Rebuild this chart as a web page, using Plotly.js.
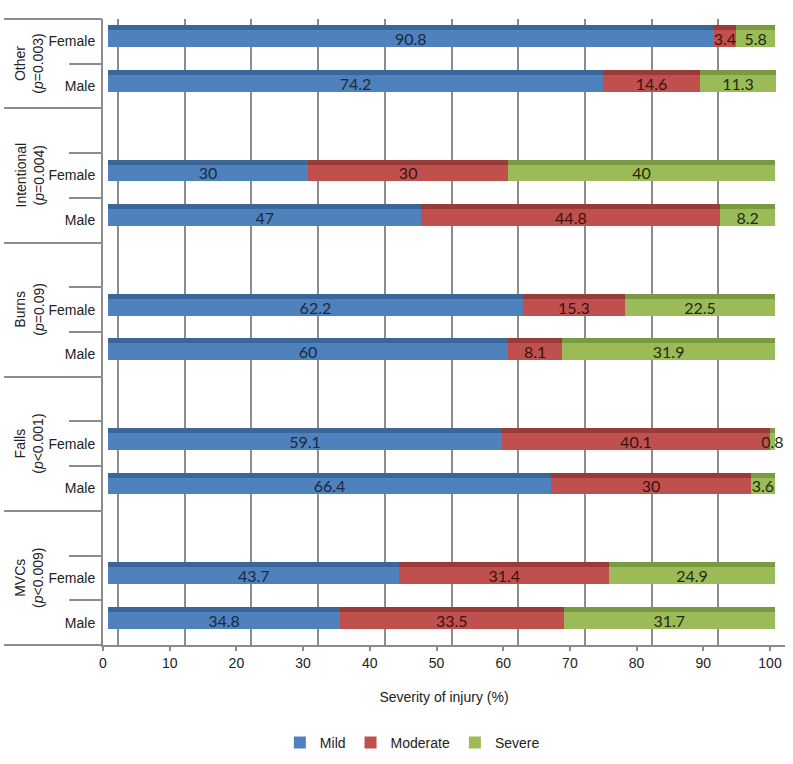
<!DOCTYPE html>
<html>
<head>
<meta charset="utf-8">
<script src="https://cdn.plot.ly/plotly-3.0.1.min.js"></script>
<style>html,body{margin:0;padding:0;background:#fff;}#chart{width:793px;height:764px;}</style>
</head>
<body>
<div id="chart"></div>
<script>
// ---- data ----
const groups = ['MVCs', 'Falls', 'Burns', 'Intentional', 'Other'];
const pLabels = ['(<i>p</i>&lt;0.009)', '(<i>p</i>&lt;0.001)', '(<i>p</i>=0.09)', '(<i>p</i>=0.004)', '(<i>p</i>=0.003)'];
const sexes = ['Male', 'Female'];
const mildMale     = [34.8, 66.4, 60.0, 47.0, 74.2];
const mildFemale   = [43.7, 59.1, 62.2, 30.0, 90.8];
const modMale      = [33.5, 30.0, 8.1, 44.8, 14.6];
const modFemale    = [31.4, 40.1, 15.3, 30.0, 3.4];
const sevMale      = [31.7, 3.6, 31.9, 8.2, 11.3];
const sevFemale    = [24.9, 0.8, 22.5, 40.0, 5.8];
const xTicks = [0, 10, 20, 30, 40, 50, 60, 70, 80, 90, 100];
const severityNames = ['Mild', 'Moderate', 'Severe'];

// ---- styling ----
const frontColors = ['#4f81bd', '#c0504d', '#9bbb59'];
const topColors   = ['#3b6698', '#983b39', '#7a9a42'];
const textColors  = ['#1a2a40', '#3a1212', '#1f2b10'];
const gridGrey = '#8c8c8c';
const tickFont = {family: 'Liberation Sans, Arial, sans-serif', size: 14, color: '#222'};

// slot positions: each group uses 3 slots (Male, Female, blank), last group 2
function slot(g, s) { return g * 3 + s; }
const yPos = [], yLabels = [];
groups.forEach((g, gi) => sexes.forEach((s, si) => { yPos.push(slot(gi, si)); yLabels.push(s); }));
function interleave(m, f) { const out = []; m.forEach((v, i) => { out.push(v, f[i]); }); return out; }
const series = [interleave(mildMale, mildFemale), interleave(modMale, modFemale), interleave(sevMale, sevFemale)];

const traces = [];
// invisible anchors so the helper axes (front scale, back grid, slot/group dividers) get drawn
[['x2', 'y'], ['x3', 'y'], ['x', 'y2'], ['x', 'y3']].forEach(([xa, ya]) => {
  traces.push({type: 'scatter', mode: 'markers', x: [50], y: [0], xaxis: xa, yaxis: ya,
    marker: {opacity: 0, size: 1}, showlegend: false, hoverinfo: 'skip'});
});
series.forEach((vals, k) => {
  traces.push({
    type: 'bar', orientation: 'h', name: severityNames[k],
    x: vals, y: yPos.map(p => p + 0.056), width: 0.38,
    marker: {color: frontColors[k], line: {width: 0}},
    text: vals.map(v => String(v)), textposition: 'inside', insidetextanchor: 'middle',
    textangle: 0, constraintext: 'none',
    textfont: {family: 'Lato, Carlito, sans-serif', size: 16, color: textColors[k]},
    hoverinfo: 'x+name', xaxis: 'x', yaxis: 'y'
  });
});
series.forEach((vals, k) => {
  traces.push({
    type: 'bar', orientation: 'h', name: severityNames[k] + ' top', showlegend: false,
    x: vals, y: yPos.map(p => p + 0.30), width: 0.11,
    marker: {color: topColors[k], line: {width: 0}},
    hoverinfo: 'skip', xaxis: 'x', yaxis: 'y'
  });
});

const nSlots = groups.length * 3 - 1;
const yRange = [-0.5, nSlots - 0.5];
const slotBounds = []; for (let b = -0.5; b <= nSlots - 0.5; b += 1) slotBounds.push(b);
const groupBounds = [-0.5]; groups.forEach((g, gi) => groupBounds.push(gi < groups.length - 1 ? gi * 3 + 2.5 : nSlots - 0.5));

const annotations = groups.map((g, gi) => ({
  xref: 'paper', yref: 'y', x: -0.1085,
  y: gi < groups.length - 1 ? gi * 3 + 1 : (gi * 3 + nSlots - 1) / 2,
  text: g + '<br>' + pLabels[gi], showarrow: false, textangle: -90,
  xanchor: 'center', yanchor: 'middle', align: 'center',
  font: {family: 'Liberation Sans, Arial, sans-serif', size: 14, color: '#222'}
}));

const layout = {
  width: 793, height: 764,
  margin: {l: 103, r: 8, t: 19, b: 119},
  paper_bgcolor: '#fff', plot_bgcolor: 'rgba(0,0,0,0)',
  barmode: 'stack', bargap: 0,
  showlegend: true,
  uniformtext: {mode: 'show', minsize: 16},
  xaxis: {range: [-0.75, 101.5], visible: false, fixedrange: true},
  xaxis2: {
    overlaying: 'x', anchor: 'y', side: 'bottom', range: [0, 102.25],
    tickvals: xTicks, ticktext: xTicks.map(String), ticks: 'outside', ticklen: 4, tickwidth: 2, tickcolor: gridGrey,
    showline: true, linecolor: gridGrey, linewidth: 2, showgrid: false, zeroline: false,
    tickfont: tickFont,
    title: {text: 'Severity of injury (%)', font: tickFont, standoff: 22}
  },
  xaxis3: {
    overlaying: 'x', anchor: 'y', side: 'bottom', range: [-2.25, 100],
    tickvals: xTicks, showticklabels: false, ticks: '', showgrid: true, gridcolor: gridGrey, gridwidth: 2,
    zeroline: false, showline: false
  },
  yaxis: {
    range: yRange, tickvals: yPos, ticktext: yLabels, ticks: '', ticklabelstandoff: 3,
    showline: true, linecolor: gridGrey, linewidth: 2, showgrid: false, zeroline: false,
    tickfont: tickFont
  },
  yaxis2: {
    overlaying: 'y', anchor: 'x', side: 'left', range: yRange,
    tickvals: slotBounds, ticks: 'outside', ticklen: 33, tickwidth: 2, tickcolor: gridGrey,
    showticklabels: false, showgrid: false, zeroline: false, showline: false
  },
  yaxis3: {
    overlaying: 'y', anchor: 'x', side: 'left', range: yRange,
    tickvals: groupBounds, ticks: 'outside', ticklen: 98, tickwidth: 2, tickcolor: gridGrey,
    showticklabels: false, showgrid: false, zeroline: false, showline: false
  },
  legend: {
    orientation: 'h', xref: 'container', yref: 'container', x: 0.52, y: 0.0275,
    xanchor: 'center', yanchor: 'middle', font: tickFont, traceorder: 'normal'
  },
  annotations: annotations
};

Plotly.newPlot('chart', traces, layout, {displayModeBar: false, staticPlot: true});
</script>
</body>
</html>
